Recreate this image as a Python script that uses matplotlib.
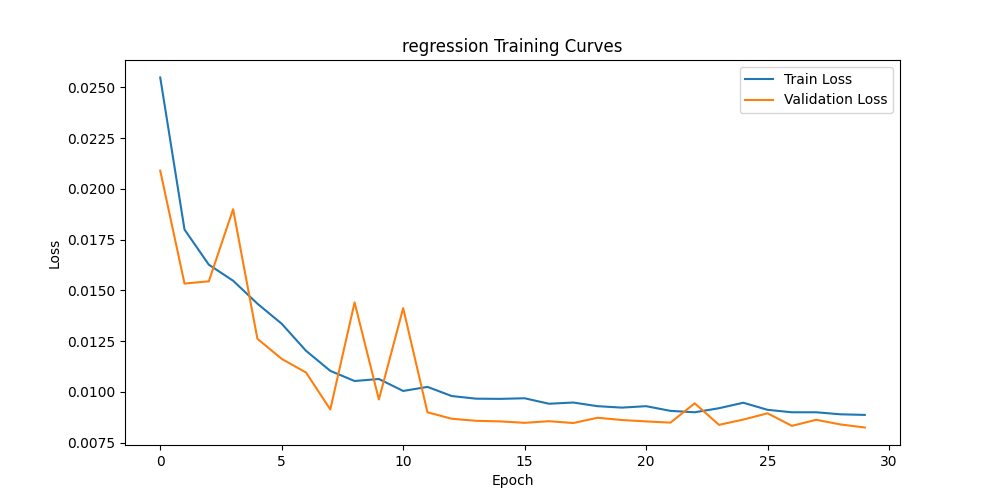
import matplotlib
matplotlib.use("Agg")
import matplotlib.pyplot as plt

epochs = list(range(30))
train_loss = [0.02549, 0.0180, 0.01627, 0.01548, 0.01435, 0.01336, 0.01203, 0.01104, 0.01054, 0.01064,
              0.01005, 0.01025, 0.0098, 0.00967, 0.00966, 0.00969, 0.00942, 0.00948, 0.0093, 0.00923,
              0.0093, 0.00907, 0.0090, 0.0092, 0.00947, 0.00912, 0.0090, 0.0090, 0.0089, 0.00887]
val_loss = [0.0209, 0.01534, 0.01545, 0.0190, 0.01262, 0.01163, 0.01096, 0.00914, 0.01441, 0.00963,
            0.01413, 0.0090, 0.00868, 0.00858, 0.00855, 0.00848, 0.00856, 0.00847, 0.00873, 0.00862,
            0.00855, 0.00849, 0.00944, 0.00838, 0.00864, 0.00895, 0.00833, 0.00863, 0.0084, 0.00825]

plt.figure(figsize=(10, 5))
plt.plot(epochs, train_loss, label="Train Loss")
plt.plot(epochs, val_loss, label="Validation Loss")
plt.title("regression Training Curves")
plt.xlabel("Epoch")
plt.ylabel("Loss")
plt.legend()
plt.savefig("out.png", dpi=100)
